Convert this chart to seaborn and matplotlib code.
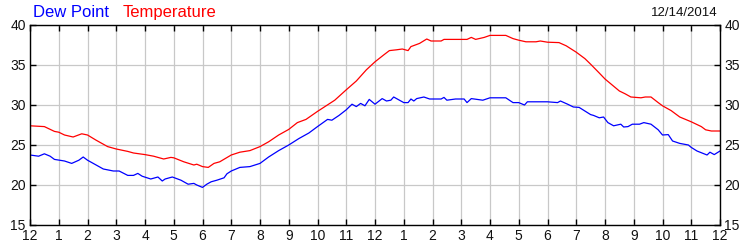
import matplotlib
matplotlib.use("Agg")
import matplotlib.pyplot as plt
import seaborn as sns
import pandas as pd

# Temperature readings (hour of day, value)
temp_hours = [0, 0.5, 0.85, 1.0, 1.2, 1.5, 1.8, 2.0, 2.3, 2.7, 3.0, 3.4, 3.6, 4.0, 4.3, 4.65, 4.9, 5.0,
              5.35, 5.7, 5.8, 6.0, 6.2, 6.4, 6.6, 7.0, 7.3, 7.65, 8.0, 8.3, 8.65, 9.0, 9.3, 9.6, 10.0,
              10.3, 10.6, 11.0, 11.35, 11.7, 12.0, 12.3, 12.5, 12.75, 12.95, 13.15, 13.25, 13.55, 13.8,
              13.95, 14.3, 14.4, 15.2, 15.35, 15.5, 15.8, 16.0, 16.55, 16.8, 17.0, 17.25, 17.6, 17.75,
              18.0, 18.4, 18.65, 19.0, 19.3, 19.5, 19.8, 20.0, 20.25, 20.5, 20.7, 20.9, 21.25, 21.4,
              21.6, 21.85, 22.0, 22.3, 22.6, 23.0, 23.35, 23.5, 23.7, 24.0]
temp_values = [27.4, 27.3, 26.7, 26.6, 26.25, 26.0, 26.4, 26.25, 25.6, 24.8, 24.5, 24.2, 24.0, 23.8, 23.6,
               23.25, 23.45, 23.4, 22.9, 22.5, 22.6, 22.3, 22.2, 22.7, 22.9, 23.75, 24.1, 24.3, 24.8,
               25.4, 26.25, 26.95, 27.8, 28.2, 29.2, 29.9, 30.6, 31.9, 33.0, 34.4, 35.4, 36.25, 36.8,
               36.9, 37.0, 36.8, 37.3, 37.7, 38.25, 38.0, 38.0, 38.2, 38.2, 38.45, 38.2, 38.45, 38.7,
               38.7, 38.3, 38.1, 37.9, 37.9, 38.0, 37.85, 37.8, 37.4, 36.6, 35.8, 35.1, 34.0, 33.25,
               32.5, 31.75, 31.4, 31.0, 30.9, 31.0, 31.0, 30.3, 29.9, 29.3, 28.5, 27.9, 27.3, 26.9,
               26.75, 26.75]

# Dew point readings (hour of day, value)
dew_hours = [0, 0.3, 0.5, 0.7, 0.85, 1.2, 1.45, 1.7, 1.85, 2.0, 2.2, 2.55, 2.9, 3.1, 3.4, 3.6, 3.75, 3.9,
             4.2, 4.45, 4.6, 4.7, 4.95, 5.25, 5.5, 5.7, 5.8, 6.0, 6.15, 6.3, 6.5, 6.75, 6.85, 7.0, 7.3,
             7.65, 8.0, 8.3, 8.65, 9.0, 9.35, 9.7, 10.0, 10.35, 10.5, 10.75, 11.0, 11.2, 11.35, 11.5,
             11.65, 11.8, 12.0, 12.25, 12.4, 12.55, 12.65, 12.85, 13.0, 13.15, 13.25, 13.35, 13.45,
             13.7, 13.9, 14.3, 14.4, 14.5, 14.8, 15.1, 15.2, 15.35, 15.75, 16.0, 16.55, 16.8, 17.0,
             17.2, 17.3, 18.0, 18.35, 18.45, 18.7, 18.9, 19.1, 19.3, 19.5, 19.6, 19.8, 19.95, 20.1,
             20.3, 20.55, 20.65, 20.8, 20.95, 21.2, 21.35, 21.6, 21.85, 22.0, 22.2, 22.35, 22.6, 22.9,
             23.0, 23.2, 23.55, 23.65, 23.8, 24.0]
dew_values = [23.75, 23.6, 23.9, 23.6, 23.2, 23.0, 22.7, 23.1, 23.5, 23.1, 22.7, 22.0, 21.75, 21.75, 21.2,
              21.2, 21.45, 21.1, 20.75, 21.0, 20.5, 20.75, 21.0, 20.6, 20.1, 20.2, 20.0, 19.7, 20.1,
              20.4, 20.6, 20.9, 21.4, 21.75, 22.2, 22.3, 22.7, 23.5, 24.3, 25.0, 25.8, 26.5, 27.3,
              28.2, 28.1, 28.7, 29.4, 30.1, 29.8, 30.2, 29.9, 30.7, 30.1, 30.8, 30.5, 30.6, 31.0, 30.6,
              30.3, 30.3, 30.75, 30.5, 30.8, 31.0, 30.75, 30.75, 30.95, 30.6, 30.75, 30.75, 30.3, 30.8,
              30.6, 30.9, 30.9, 30.3, 30.3, 30.0, 30.4, 30.4, 30.3, 30.5, 30.1, 29.75, 29.7, 29.25,
              28.8, 28.7, 28.4, 28.5, 27.8, 27.4, 27.6, 27.25, 27.3, 27.6, 27.6, 27.8, 27.6, 26.9,
              26.25, 26.3, 25.5, 25.2, 25.0, 24.7, 24.25, 23.75, 24.1, 23.8, 24.25]

x_ticks = list(range(0, 25))
x_tick_labels = ["12", "1", "2", "3", "4", "5", "6", "7", "8", "9", "10", "11",
                 "12", "1", "2", "3", "4", "5", "6", "7", "8", "9", "10", "11", "12"]
y_ticks = [15, 20, 25, 30, 35, 40]
date_label = "12/14/2014"

sns.set_style("white")
plt.rcParams["font.family"] = ["Liberation Sans", "DejaVu Sans"]

temp_df = pd.DataFrame({"hour": temp_hours, "value": temp_values})
dew_df = pd.DataFrame({"hour": dew_hours, "value": dew_values})

fig = plt.figure(figsize=(7.5, 2.5), dpi=100)
ax = fig.add_axes([0.04, 0.10, 0.92, 0.80])

sns.lineplot(data=dew_df, x="hour", y="value", ax=ax, color="#0000ff", linewidth=0.9)
sns.lineplot(data=temp_df, x="hour", y="value", ax=ax, color="#ff0000", linewidth=0.9)

ax.set_xlim(0, 24)
ax.set_ylim(15, 40)
ax.set_xticks(x_ticks)
ax.set_xticklabels(x_tick_labels)
ax.set_yticks(y_ticks)
ax.set_xlabel("")
ax.set_ylabel("")
ax.grid(True, color="#c8c8c8", linewidth=0.9)
ax.set_axisbelow(True)
for s in ax.spines.values():
    s.set_color("black")
    s.set_linewidth(1.0)
ax.tick_params(axis="both", which="both", direction="in", length=4, width=1, color="black",
               labelsize=10, labelcolor="#111111", top=True, right=True, left=True, bottom=True,
               labelleft=True, labelright=True, pad=3)

fig.text(0.044, 0.95, "Dew Point", color="#0000ff", fontsize=12, va="center", ha="left")
fig.text(0.164, 0.95, "Temperature", color="#ff0000", fontsize=12, va="center", ha="left")
fig.text(0.957, 0.95, date_label, color="#111111", fontsize=9.5, va="center", ha="right")

fig.savefig("out.png", dpi=100, facecolor="white")
